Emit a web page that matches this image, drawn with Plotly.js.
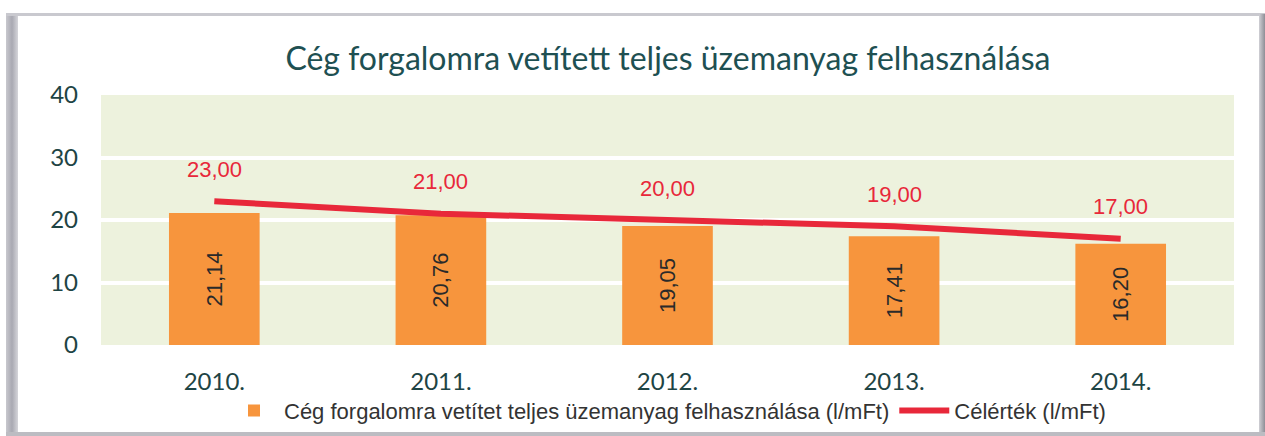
<!DOCTYPE html>
<html>
<head>
<meta charset="utf-8">
<script src="https://cdn.plot.ly/plotly-3.0.1.min.js"></script>
<style>
html,body{margin:0;padding:0;background:#fff;}
#wrap{position:relative;width:1265px;height:436px;overflow:hidden;}
#chart{position:absolute;left:0;top:0;width:1265px;height:436px;}
.fr{position:absolute;pointer-events:none;}
</style>
</head>
<body>
<div id="wrap">
<div id="chart"></div>
<div class="fr" style="left:6px;top:14px;width:12px;height:422px;background:linear-gradient(90deg,#c8c8ce,#a9a9b2 50%,#d5d5da);"></div>
<div class="fr" style="left:6px;top:13px;width:1259px;height:3px;background:#c9c9cf;"></div>
<div class="fr" style="left:1259px;top:14px;width:6px;height:422px;background:linear-gradient(90deg,#d0d0d5,#8e8e96);"></div>
<div class="fr" style="left:6px;top:432px;width:1259px;height:4px;background:#bcbcc2;"></div>
</div>
<script>
const categories = ["2010.", "2011.", "2012.", "2013.", "2014."];
const actualValues = [21.14, 20.76, 19.05, 17.41, 16.20];
const targetValues = [23.00, 21.00, 20.00, 19.00, 17.00];
const yTicks = [0, 10, 20, 30, 40];

const barName = "Cég forgalomra vetítet teljes üzemanyag felhasználása (l/mFt)";
const lineName = "Célérték (l/mFt)";
const titleText = "Cég forgalomra vetített teljes üzemanyag felhasználása";

const fmt = v => v.toFixed(2).replace('.', ',');
const xIdx = categories.map((c, i) => i);

const barTrace = {
  type: 'bar',
  x: xIdx,
  y: actualValues,
  name: barName,
  marker: {color: '#F7953D'},
  width: 0.4,
  text: actualValues.map(fmt),
  textposition: 'inside',
  insidetextanchor: 'middle',
  constraintext: 'none',
  textangle: -90,
  textfont: {family: 'Liberation Sans, Arial, sans-serif', size: 22, color: '#2a2a2a'},
  hoverinfo: 'skip'
};

const lineTrace = {
  type: 'scatter',
  mode: 'lines',
  x: xIdx,
  y: targetValues,
  name: lineName,
  line: {color: '#E8283A', width: 6, shape: 'linear'},
  hoverinfo: 'skip'
};

const annotations = targetValues.map((v, i) => ({
  x: xIdx[i],
  y: v,
  xref: 'x',
  yref: 'y',
  text: fmt(v),
  showarrow: false,
  yshift: 32,
  font: {family: 'Liberation Sans, Arial, sans-serif', size: 22, color: '#E8283A'}
}));

const layout = {
  width: 1265,
  height: 436,
  margin: {l: 101, r: 31, t: 95, b: 91, autoexpand: false},
  paper_bgcolor: 'rgba(0,0,0,0)',
  plot_bgcolor: '#EDF2DD',
  title: {
    text: titleText,
    font: {family: 'Lato, Open Sans, sans-serif', size: 32, color: '#1E5052'},
    x: 0.528,
    xanchor: 'center',
    y: 0.865,
    yanchor: 'middle'
  },
  xaxis: {
    type: 'linear',
    range: [-0.5, 4.5],
    tickvals: xIdx,
    ticktext: categories,
    tickfont: {family: 'Lato, sans-serif', size: 24, color: '#1E4444'},
    ticklabelstandoff: 20,
    automargin: false,
    showgrid: false,
    zeroline: false,
    showline: false,
    ticks: ''
  },
  yaxis: {
    range: [0, 40],
    tickvals: yTicks,
    ticktext: yTicks.map(String),
    tickfont: {family: 'Lato, sans-serif', size: 24, color: '#1E4444'},
    ticklabelstandoff: 22,
    automargin: false,
    showgrid: true,
    gridcolor: '#FFFFFF',
    gridwidth: 4,
    zeroline: false,
    showline: false,
    ticks: ''
  },
  showlegend: true,
  legend: {
    orientation: 'h',
    x: 0.5,
    xanchor: 'center',
    yref: 'container',
    y: 0.058,
    yanchor: 'middle',
    font: {family: 'Liberation Sans, Arial, sans-serif', size: 22, color: '#333333'},
    itemwidth: 50,
    traceorder: 'normal',
    bgcolor: 'rgba(0,0,0,0)'
  },
  annotations: annotations
};

Plotly.newPlot('chart', [barTrace, lineTrace], layout, {staticPlot: true, displayModeBar: false});
</script>
</body>
</html>
